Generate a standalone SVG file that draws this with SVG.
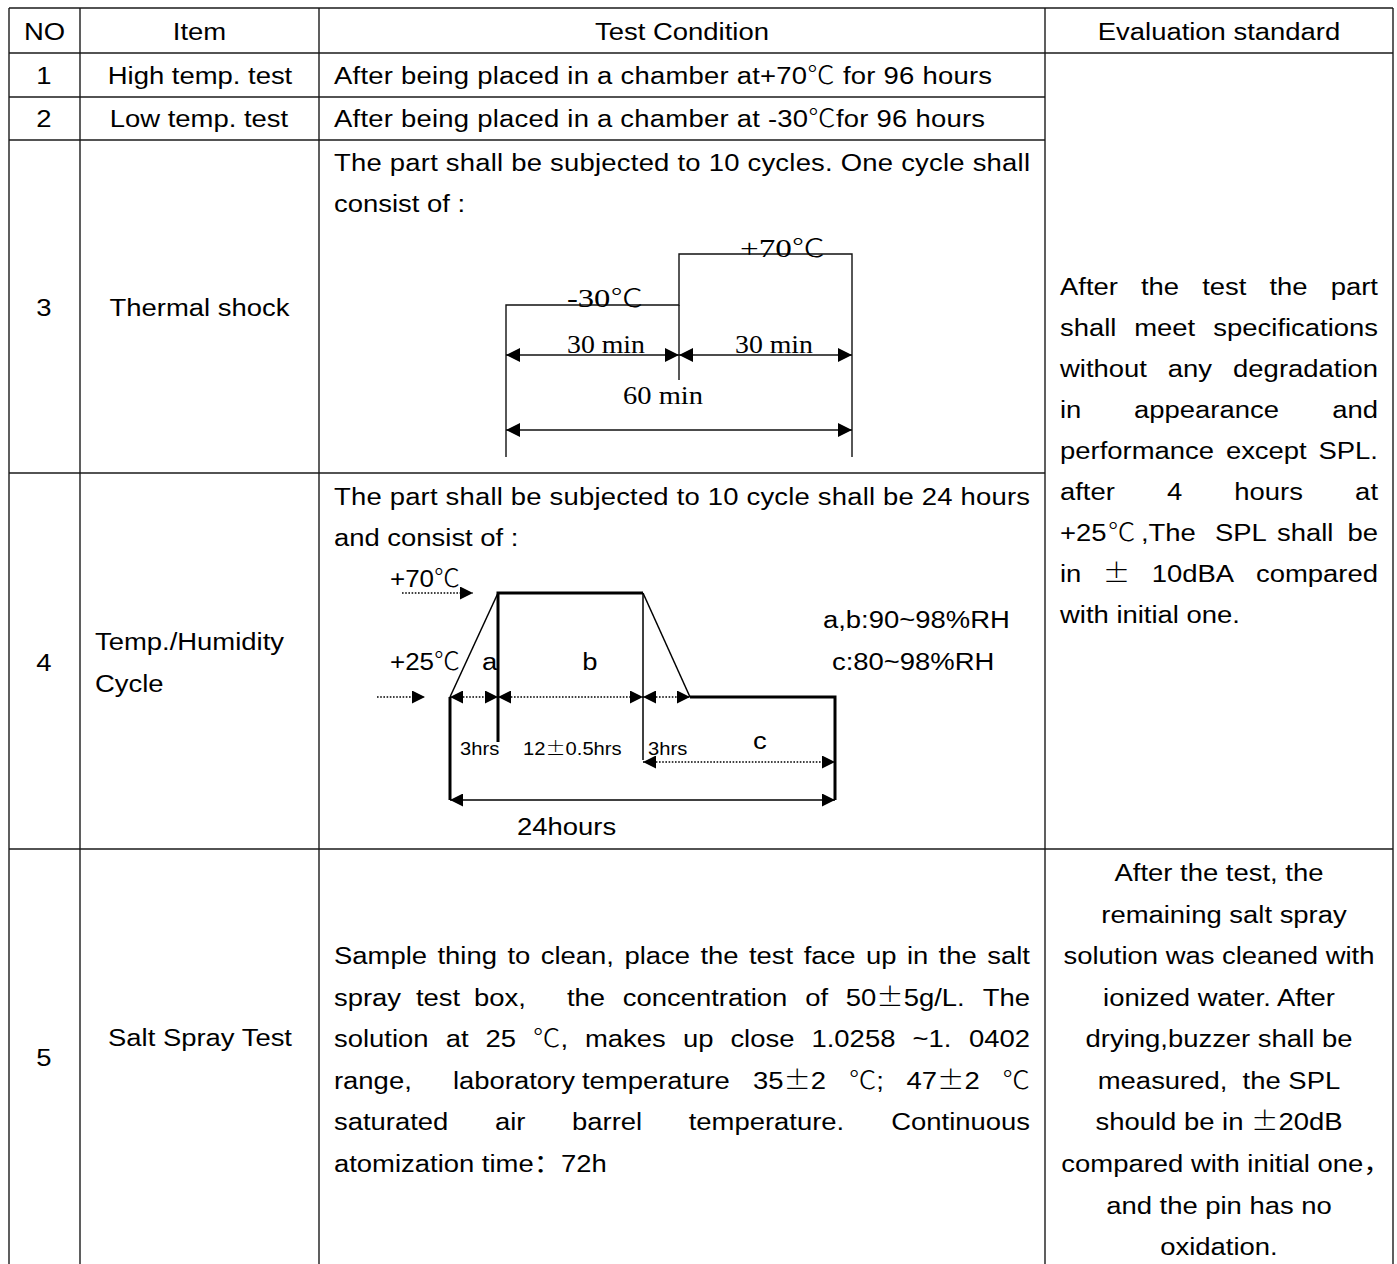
<svg xmlns="http://www.w3.org/2000/svg" width="1397" height="1264" viewBox="0 0 1397 1264">
<style>
.t{font-family:'Liberation Sans','Noto Sans CJK SC',sans-serif;font-size:24.5px;fill:#000}
.m{text-anchor:middle}
.e{text-anchor:end}
.cj{font-family:'Noto Sans CJK SC',sans-serif;font-weight:300}
.tr{font-family:'Liberation Serif','Noto Sans CJK SC',serif;font-size:25px;fill:#000}
.s{font-size:18px}
.grid line{stroke:#1a1a1a;stroke-width:1.4}
.thin{stroke:#000;stroke-width:1.5;fill:none}
.thick{stroke:#000;stroke-width:3;fill:none}
.dot{stroke:#000;stroke-width:1.6;stroke-dasharray:1.6 1.6;fill:none}
.ts{stroke:#111;stroke-width:1.4;fill:none}
</style>
<defs>
<marker id="ah1" viewBox="0 0 10 10" refX="10" refY="5" markerWidth="17" markerHeight="14" markerUnits="userSpaceOnUse" orient="auto-start-reverse"><path d="M0,0 L10,5 L0,10 z" fill="#000"/></marker>
<marker id="ah2" viewBox="0 0 10 10" refX="10" refY="5" markerWidth="15" markerHeight="13" markerUnits="userSpaceOnUse" orient="auto-start-reverse"><path d="M0,0 L10,5 L0,10 z" fill="#000"/></marker>
</defs>
<rect width="1397" height="1264" fill="#fff"/>

<g id="table-grid" class="grid">
<line x1="9" y1="8" x2="1393" y2="8"/>
<line x1="9" y1="8" x2="9" y2="1264"/>
<line x1="80" y1="8" x2="80" y2="1264"/>
<line x1="319" y1="8" x2="319" y2="1264"/>
<line x1="1045" y1="8" x2="1045" y2="1264"/>
<line x1="1393" y1="8" x2="1393" y2="1264"/>
<line x1="9" y1="53" x2="1393" y2="53"/>
<line x1="9" y1="97" x2="1045" y2="97"/>
<line x1="9" y1="140" x2="1045" y2="140"/>
<line x1="9" y1="473" x2="1045" y2="473"/>
<line x1="9" y1="849" x2="1393" y2="849"/>
</g>

<g id="header" transform="scale(1.12,1)">
<text class="t m" x="39.73" y="40">NO</text>
<text class="t m" x="178.13" y="40">Item</text>
<text class="t m" x="608.93" y="40">Test Condition</text>
<text class="t m" x="1088.39" y="40">Evaluation standard</text>
</g>

<g id="row1" transform="scale(1.12,1)">
<text class="t m" x="39.29" y="84">1</text>
<text class="t m" x="178.57" y="84">High temp. test</text>
<text class="t" x="298.21" y="84" textLength="587.5">After being placed in a chamber at+70<tspan class="cj">℃</tspan> for 96 hours</text>
</g>

<g id="row2" transform="scale(1.12,1)">
<text class="t m" x="39.29" y="127">2</text>
<text class="t m" x="177.68" y="127">Low temp. test</text>
<text class="t" x="298.21" y="127" textLength="581.25">After being placed in a chamber at -30<tspan class="cj">℃</tspan>for 96 hours</text>
</g>

<g id="row3" transform="scale(1.12,1)">
<text class="t m" x="39.29" y="316">3</text>
<text class="t m" x="178.13" y="316">Thermal shock</text>
<text class="t" x="298.21" y="171" textLength="621.43">The part shall be subjected to 10 cycles. One cycle shall</text>
<text class="t" x="298.21" y="212">consist of :</text>
</g>

<g id="thermal-shock-diagram">
<path class="ts" d="M506,457 V305 H679 V254 H852 V457"/>
<line class="ts" x1="679" y1="305" x2="679" y2="380"/>
<line class="ts" x1="506" y1="355" x2="679" y2="355" marker-start="url(#ah1)" marker-end="url(#ah1)"/>
<line class="ts" x1="679" y1="355" x2="852" y2="355" marker-start="url(#ah1)" marker-end="url(#ah1)"/>
<line class="ts" x1="506" y1="430" x2="852" y2="430" marker-start="url(#ah1)" marker-end="url(#ah1)"/>
<g transform="scale(1.12,1)">
<text class="tr" x="660.71" y="257" font-size="29" textLength="75.89" lengthAdjust="spacingAndGlyphs">+70<tspan class="cj">℃</tspan></text>
<text class="tr" x="506.25" y="307" font-size="28" textLength="67.86" lengthAdjust="spacingAndGlyphs">-30<tspan class="cj">℃</tspan></text>
<text class="tr" x="506.25" y="353" textLength="69.64" lengthAdjust="spacingAndGlyphs">30 min</text>
<text class="tr" x="656.25" y="353" textLength="69.64" lengthAdjust="spacingAndGlyphs">30 min</text>
<text class="tr" x="556.25" y="404" textLength="71.43" lengthAdjust="spacingAndGlyphs">60 min</text>
</g>
</g>

<g id="row4" transform="scale(1.12,1)">
<text class="t m" x="39.29" y="671">4</text>
<text class="t" x="84.82" y="650">Temp./Humidity</text>
<text class="t" x="84.82" y="692">Cycle</text>
<text class="t" x="298.21" y="505" textLength="621.43">The part shall be subjected to 10 cycle shall be 24 hours</text>
<text class="t" x="298.21" y="546">and consist of :</text>
</g>

<g id="humidity-cycle-diagram">
<path class="thick" d="M450,697 V800"/>
<path class="thick" d="M498,742 V593 H643"/>
<path class="thick" d="M690,697 H835 V800"/>
<path class="thin" d="M450,697 L498,593"/>
<path class="thin" d="M643,593 L690,697"/>
<path class="thin" d="M643,593 V760"/>
<line class="thin" x1="450" y1="800" x2="835" y2="800" marker-start="url(#ah2)" marker-end="url(#ah2)"/>
<line class="dot" x1="643" y1="762" x2="835" y2="762" marker-start="url(#ah2)" marker-end="url(#ah2)"/>
<line class="dot" x1="450" y1="697" x2="498" y2="697" marker-start="url(#ah2)" marker-end="url(#ah2)"/>
<line class="dot" x1="498" y1="697" x2="643" y2="697" marker-start="url(#ah2)" marker-end="url(#ah2)"/>
<line class="dot" x1="643" y1="697" x2="690" y2="697" marker-start="url(#ah2)" marker-end="url(#ah2)"/>
<line class="dot" x1="377" y1="697" x2="425" y2="697" marker-end="url(#ah2)"/>
<line class="dot" x1="402" y1="593" x2="473" y2="593" marker-end="url(#ah2)"/>
<g transform="scale(1.12,1)">
<text class="t" x="348.21" y="587" textLength="62.5" lengthAdjust="spacingAndGlyphs">+70<tspan class="cj">℃</tspan></text>
<text class="t" x="348.21" y="670" textLength="62.5" lengthAdjust="spacingAndGlyphs">+25<tspan class="cj">℃</tspan></text>
<text class="t" x="430.36" y="670">a</text>
<text class="t m" x="526.79" y="670">b</text>
<text class="t s" x="410.71" y="755">3hrs</text>
<text class="t s" x="466.96" y="755">12<tspan class="cj">±</tspan>0.5hrs</text>
<text class="t s" x="578.57" y="755">3hrs</text>
<text class="t" x="672.32" y="749" font-size="22">c</text>
<text class="t" x="461.61" y="835">24hours</text>
<text class="t" x="734.82" y="628">a,b:90~98%RH</text>
<text class="t" x="742.86" y="670">c:80~98%RH</text>
</g>
</g>

<g id="eval-rows1-4" transform="scale(1.12,1)">
<text class="t" y="295"><tspan x="946.43">After</tspan><tspan x="1018.75">the</tspan><tspan x="1073.39">test</tspan><tspan x="1133.39">the</tspan></text>
<text class="t e" x="1230.36" y="295">part</text>
<text class="t" y="336"><tspan x="946.43">shall</tspan><tspan x="1012.68">meet</tspan></text>
<text class="t e" x="1230.36" y="336">specifications</text>
<text class="t" y="377"><tspan x="946.43">without</tspan><tspan x="1042.68">any</tspan></text>
<text class="t e" x="1230.36" y="377">degradation</text>
<text class="t" y="418"><tspan x="946.43">in</tspan><tspan x="1012.59">appearance</tspan></text>
<text class="t e" x="1230.36" y="418">and</text>
<text class="t" y="459"><tspan x="946.43">performance</tspan><tspan x="1094.55">except</tspan></text>
<text class="t e" x="1230.36" y="459">SPL.</text>
<text class="t" y="500"><tspan x="946.43">after</tspan><tspan x="1041.96">4</tspan><tspan x="1102.05">hours</tspan></text>
<text class="t e" x="1230.36" y="500">at</text>
<text class="t" y="541"><tspan x="946.43">+25</tspan><tspan x="989.29" class="cj">℃</tspan><tspan x="1018.75">,The</tspan><tspan x="1084.82">SPL</tspan><tspan x="1140.18">shall</tspan></text>
<text class="t e" x="1230.36" y="541">be</text>
<text class="t" y="582"><tspan x="946.43">in</tspan><tspan x="984.64" class="cj">±</tspan><tspan x="1028.3">10dBA</tspan></text>
<text class="t e" x="1230.36" y="582">compared</text>
<text class="t" x="946.43" y="623">with initial one.</text>
</g>

<g id="row5" transform="scale(1.12,1)">
<text class="t m" x="39.29" y="1066">5</text>
<text class="t m" x="178.57" y="1046">Salt Spray Test</text>
<text class="t" y="964"><tspan x="298.21">Sample</tspan><tspan x="390.63">thing</tspan><tspan x="453.13">to</tspan><tspan x="482.77">clean,</tspan><tspan x="557.5">place</tspan><tspan x="625.45">the</tspan><tspan x="668.75">test</tspan><tspan x="717.59">face</tspan><tspan x="773.21">up</tspan><tspan x="809.73">in</tspan><tspan x="838.04">the</tspan></text>
<text class="t e" x="919.64" y="964">salt</text>
<text class="t" y="1006"><tspan x="298.21">spray</tspan><tspan x="371.43">test</tspan><tspan x="423.21">box,</tspan><tspan x="506.25">the</tspan><tspan x="555.98">concentration</tspan><tspan x="719.02">of</tspan><tspan x="755.09">50</tspan><tspan class="cj">±</tspan><tspan>5g/L.</tspan></text>
<text class="t e" x="919.64" y="1006">The</text>
<text class="t" y="1047"><tspan x="298.21">solution</tspan><tspan x="397.95">at</tspan><tspan x="433.48">25</tspan><tspan x="475.89" class="cj">℃</tspan><tspan>,</tspan><tspan x="522.32">makes</tspan><tspan x="609.73">up</tspan><tspan x="652.14">close</tspan><tspan x="724.55">1.0258</tspan><tspan x="814.73">~1.</tspan></text>
<text class="t e" x="919.64" y="1047">0402</text>
<text class="t" y="1089"><tspan x="298.21">range,</tspan><tspan x="404.46">laboratory</tspan><tspan x="519.64">temperature</tspan><tspan x="672.23">35</tspan><tspan class="cj">±</tspan><tspan>2</tspan><tspan x="757.95" class="cj">℃</tspan><tspan>;</tspan><tspan x="809.46">47</tspan><tspan class="cj">±</tspan><tspan>2</tspan></text>
<text class="t e cj" x="919.64" y="1089">℃</text>
<text class="t" y="1130"><tspan x="298.21">saturated</tspan><tspan x="441.96">air</tspan><tspan x="510.71">barrel</tspan><tspan x="614.91">temperature.</tspan></text>
<text class="t e" x="919.64" y="1130">Continuous</text>
<text class="t" x="298.21" y="1172">atomization time：72h</text>
<text class="t m" x="1088.39" y="881">After the test, the</text>
<text class="t m" x="1092.86" y="923">remaining salt spray</text>
<text class="t m" x="1088.39" y="964">solution was cleaned with</text>
<text class="t m" x="1088.39" y="1006">ionized water. After</text>
<text class="t m" x="1088.39" y="1047">drying,buzzer shall be</text>
<text class="t m" x="1088.39" y="1089" xml:space="preserve">measured,  the SPL</text>
<text class="t m" x="1088.39" y="1130">should be in <tspan class="cj">±</tspan>20dB</text>
<text class="t m" x="1094.64" y="1172">compared with initial one，</text>
<text class="t m" x="1088.39" y="1214">and the pin has no</text>
<text class="t m" x="1088.39" y="1255">oxidation.</text>
</g>
</svg>
